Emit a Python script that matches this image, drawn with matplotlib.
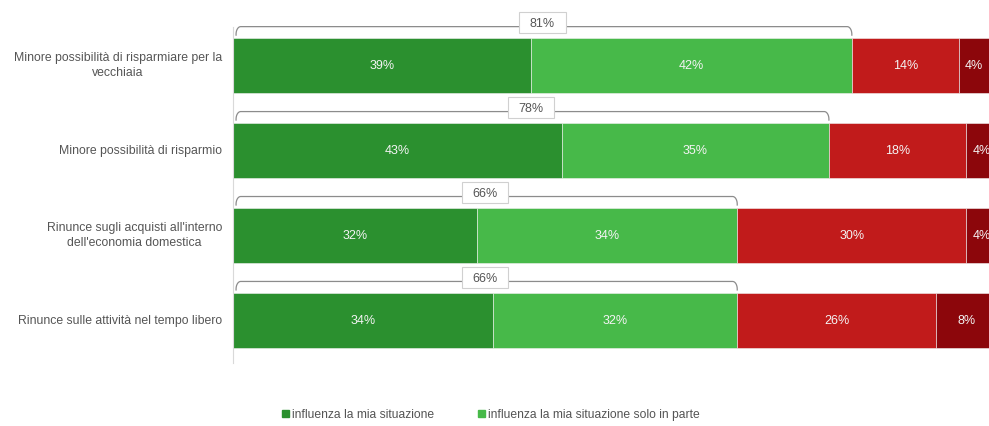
import numpy as np
import matplotlib.pyplot as plt
from matplotlib.patches import Patch, Rectangle

plt.rcParams['font.family'] = ['Liberation Sans', 'DejaVu Sans']

categories = [
    "Minore possibilità di risparmiare per la\nvecchiaia",
    "Minore possibilità di risparmio",
    "Rinunce sugli acquisti all'interno\ndell'economia domestica",
    "Rinunce sulle attività nel tempo libero",
]
influenza = [39, 43, 32, 34]
in_parte = [42, 35, 34, 32]
non_molto = [14, 18, 30, 26]
per_niente = [4, 4, 4, 8]
totals = [81, 78, 66, 66]

legend_labels = ["influenza la mia situazione",
                 "influenza la mia situazione solo in parte"]
colors = ["#2b902f", "#47b949", "#c11b1b", "#8c060b"]

fig = plt.figure(figsize=[9.89, 4.26], dpi=100)
# axes runs past the right edge, like the cropped original
ax = fig.add_axes([233 / 989, 1 - 363 / 426, 764 / 989, 361 / 426])

y = np.arange(len(categories))
series = [influenza, in_parte, non_molto, per_niente]
left = np.zeros(len(categories))
for vals, c in zip(series, colors):
    bars = ax.barh(y, vals, left=left, height=0.647, color=c,
                   edgecolor='#f2f2f2', linewidth=0.4)
    for b, v in zip(bars, vals):
        ax.text(b.get_x() + b.get_width() / 2, b.get_y() + b.get_height() / 2,
                f"{v}%", ha='center', va='center', color='#f4f4f4', fontsize=9)
    left += np.array(vals)

ax.set_xlim(0, 100)
ax.set_ylim(3.5, -0.75)
for s in ax.spines.values():
    s.set_visible(False)
ax.set_xticks([])
ax.set_yticks([])

# left axis line
ax.plot([0, 0], [-0.45, 3.5], color='#d9d9d9', linewidth=0.8, clip_on=False)

# category labels
for yi, lab in zip(y, categories):
    ax.text(-1.4, yi, lab, ha='right', va='center', multialignment='center',
            fontsize=8.8, color='#555555', linespacing=1.35)

# brackets for the totals
r_x, r_y = 0.6, 0.09
t = np.linspace(0, np.pi / 2, 10)
box_w, box_h = 6.1, 0.25
for yi, tot in zip(y, totals):
    yb = yi - 0.46
    yd = yi - 0.36
    xl, xr = 0.4, tot
    xs = np.concatenate([[xl], xl + r_x - r_x * np.cos(t), [xr - r_x],
                         xr - r_x + r_x * np.sin(t), [xr]])
    ys = np.concatenate([[yd], yb + r_y - r_y * np.sin(t), [yb],
                         yb + r_y - r_y * np.cos(t), [yd]])
    ax.plot(xs, ys, color='#8c8c8c', linewidth=0.9, clip_on=False)
    ax.add_patch(Rectangle((tot / 2 - box_w / 2, yb - 0.05 - box_h / 2), box_w, box_h,
                           fc='white', ec='#d0d0d0', lw=0.8, clip_on=False, zorder=3))
    ax.text(tot / 2, yb - 0.03, f"{tot}%", ha='center', va='center',
            fontsize=9, color='#555555', zorder=4)

handles = [Patch(color=colors[0]), Patch(color=colors[1])]
fig.legend(handles, legend_labels, loc='center', bbox_to_anchor=(491 / 989, 1 - 415 / 426),
           ncol=2, frameon=False, fontsize=8.7, handlelength=0.55, handleheight=0.55,
           handletextpad=0.3, columnspacing=3.6, labelcolor='#555555')

plt.savefig('out.png', dpi=100)
